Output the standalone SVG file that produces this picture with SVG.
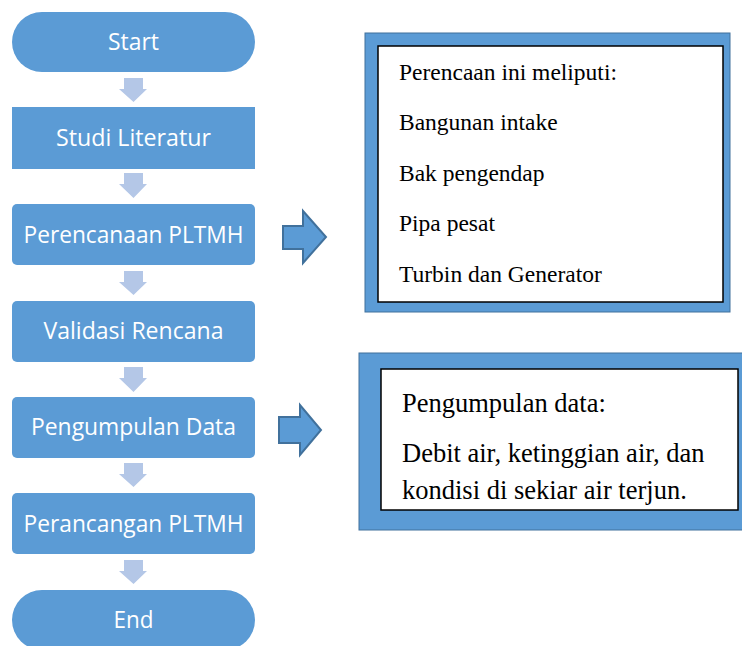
<svg xmlns="http://www.w3.org/2000/svg" width="742" height="646" viewBox="0 0 742 646">
<style>
.node{fill:#5B9BD5;}
.lbl{font-family:"Open Sans","Liberation Sans",sans-serif;font-size:23px;fill:#ffffff;text-anchor:middle;}
.down{fill:#B4C7E7;}
.right{fill:#5B9BD5;stroke:#41719C;stroke-width:2;}
.frame{fill:#5B9BD5;stroke:#41719C;stroke-width:1;}
.inner{fill:#ffffff;stroke:#000000;stroke-width:1.5;}
.note{font-family:"Liberation Serif","Times New Roman",serif;fill:#000000;}
</style>
<rect width="742" height="646" fill="#ffffff"/>
<g id="connectors">
<polygon class="down" points="124,78 143,78 143,89 147,89 133.5,102 119,89 124,89"/>
<polygon class="down" points="124,173 143,173 143,184 147,184 133.5,198 119,184 124,184"/>
<polygon class="down" points="124,271 143,271 143,282 147,282 133.5,295 119,282 124,282"/>
<polygon class="down" points="124,367 143,367 143,378 147,378 133.5,392 119,378 124,378"/>
<polygon class="down" points="124,463 143,463 143,474 147,474 133.5,487 119,474 124,474"/>
<polygon class="down" points="124,560 143,560 143,571 147,571 133.5,584 119,571 124,571"/>
<polygon class="right" points="283,226 303,226 303,211 326,237 303,263 303,249 283,249"/>
<polygon class="right" points="279,417 300,417 300,405 321,430 300,455 300,443 279,443"/>
</g>
<g id="start">
<rect class="node" x="12" y="12" width="243" height="60" rx="30"/>
<text class="lbl" x="133.5" y="50" textLength="51" lengthAdjust="spacingAndGlyphs">Start</text>
</g>
<g id="studi">
<rect class="node" x="12" y="107" width="243" height="62"/>
<text class="lbl" x="133.5" y="146" textLength="155" lengthAdjust="spacingAndGlyphs">Studi Literatur</text>
</g>
<g id="perencanaan">
<rect class="node" x="12" y="204" width="243" height="61" rx="5"/>
<text class="lbl" x="133.5" y="243" textLength="220" lengthAdjust="spacingAndGlyphs">Perencanaan PLTMH</text>
</g>
<g id="validasi">
<rect class="node" x="12" y="301" width="243" height="61" rx="5"/>
<text class="lbl" x="133.5" y="339" textLength="180" lengthAdjust="spacingAndGlyphs">Validasi Rencana</text>
</g>
<g id="pengumpulan">
<rect class="node" x="12" y="397" width="243" height="61" rx="5"/>
<text class="lbl" x="133.5" y="435" textLength="205" lengthAdjust="spacingAndGlyphs">Pengumpulan Data</text>
</g>
<g id="perancangan">
<rect class="node" x="12" y="493" width="243" height="61" rx="5"/>
<text class="lbl" x="133.5" y="532" textLength="220" lengthAdjust="spacingAndGlyphs">Perancangan PLTMH</text>
</g>
<g id="end">
<rect class="node" x="12" y="590" width="243" height="60" rx="30"/>
<text class="lbl" x="133.5" y="628" textLength="40" lengthAdjust="spacingAndGlyphs">End</text>
</g>
<g id="note1">
<rect class="frame" x="365" y="33" width="365" height="279"/>
<rect class="inner" x="378" y="46" width="345" height="256"/>
<text class="note" font-size="23.5" x="399" y="80">Perencaan ini meliputi:</text>
<text class="note" font-size="23.5" x="399" y="130">Bangunan intake</text>
<text class="note" font-size="23.5" x="399" y="181">Bak pengendap</text>
<text class="note" font-size="23.5" x="399" y="231">Pipa pesat</text>
<text class="note" font-size="23.5" x="399" y="282">Turbin dan Generator</text>
</g>
<g id="note2">
<rect class="frame" x="359" y="353" width="400" height="177"/>
<rect class="inner" x="381" y="369" width="357" height="141"/>
<text class="note" font-size="26.5" x="402" y="412">Pengumpulan data:</text>
<text class="note" font-size="26.5" x="402" y="462">Debit air, ketinggian air, dan</text>
<text class="note" font-size="26.5" x="402" y="499">kondisi di sekiar air terjun.</text>
</g>
</svg>
